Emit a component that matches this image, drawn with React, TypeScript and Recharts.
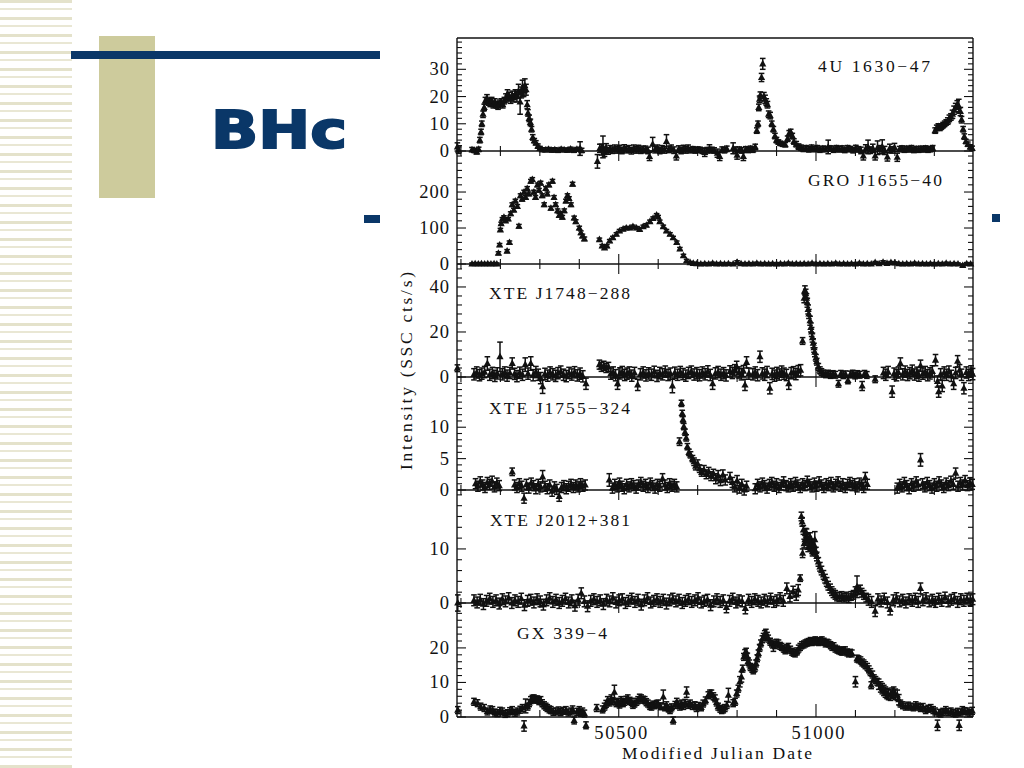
import { ScatterChart, Scatter, XAxis, YAxis, ErrorBar } from "recharts";

// [MJD, rate (SSC cts/s), 1-sigma error]
type Pt = [number, number, number];

const MJD_RANGE: [number, number] = [50090, 51398];
const MJD_TICKS = [50100, 50200, 50300, 50400, 50500, 50600, 50700, 50800, 50900, 51000, 51100, 51200, 51300];
const MJD_LABELS = [50500, 51000];

const SRC_4U1630: Pt[] = [
  [50091, 1.5, 1.5], [50094, 0.3, 1.2],
  [50128, 0.5, 0.8], [50134, 0.2, 0.8], [50140, -0.3, 0.8], [50145, 0.6, 0.8],
  [50148, 4, 1], [50151, 7, 1], [50153, 10, 1], [50156, 13.5, 1.2], [50159, 16, 1.2], [50162, 18.5, 1.2],
  [50166, 19.5, 1.2], [50170, 18, 1.2], [50174, 17.5, 1.2], [50178, 18.5, 1.2], [50182, 17, 1.2], [50186, 18, 1.2],
  [50190, 17, 1.2], [50194, 16.5, 1.2], [50198, 17.5, 1.2], [50202, 18, 1.2], [50206, 17, 1.2], [50210, 18.5, 1.2],
  [50214, 19.5, 1.5], [50218, 21, 1.5], [50222, 20, 1.5], [50226, 19, 1.5], [50230, 20.5, 1.5], [50234, 19.5, 1.5],
  [50238, 21, 1.5], [50242, 20, 2], [50246, 22, 2.5], [50250, 18, 4.5], [50253, 21.5, 2], [50256, 23, 3],
  [50259, 22, 2], [50262, 24, 2.5], [50265, 22.5, 2], [50268, 17, 1.5], [50270, 14, 1.2], [50273, 12, 1.2],
  [50276, 10.5, 1.2], [50279, 8, 1], [50282, 5, 1], [50286, 3.8, 0.8], [50290, 3, 0.8], [50295, 1.8, 0.8],
  [50300, 1, 0.7], [50306, 0.5, 0.7], [50314, 0.4, 0.7], [50322, 0.6, 0.7], [50330, 0.3, 0.7], [50338, 0.5, 0.7],
  [50346, 0.2, 0.7], [50354, 0.6, 0.7], [50362, 0.4, 0.7], [50370, 0.3, 0.7], [50378, 0.7, 0.7], [50386, 0.2, 0.7],
  [50394, 0.6, 0.7], [50402, 0.9, 2.5], [50406, 0.2, 0.8],
  [50446, -3.8, 2.5], [50452, 1, 1.5], [50456, 0.5, 2], [50460, 1.5, 4], [50464, -0.5, 1.5], [50468, 1.2, 1.5],
  [50473, 0, 1.2], [50478, 0.8, 1.2], [50484, 0.3, 1.2], [50490, 1, 1.2], [50496, 0.4, 1.2], [50502, 0.9, 1.2],
  [50508, 0.2, 1.2], [50514, 1.1, 1.2], [50520, 0.5, 1.2], [50526, 0.8, 1.2], [50532, 0.1, 1.2], [50538, 1, 1.2],
  [50544, 0.4, 1.2], [50550, 0.9, 1.2], [50556, 0.3, 1.2], [50562, 0.6, 1.2], [50568, 0.6, 1.2], [50574, 0.2, 1.2],
  [50578, -2, 1.5], [50586, 2.5, 2.5], [50592, 0.5, 1.2], [50598, 1, 1.2], [50604, 0.2, 1.2], [50610, 0.8, 1.2],
  [50616, 0.4, 1.2], [50621, 3.5, 2.5], [50627, 0.6, 1.2], [50633, 1, 1.2], [50640, 0.3, 1.2], [50646, -1.8, 1.5],
  [50652, 0.7, 1.2], [50658, 0.2, 1.2], [50664, 0.9, 1.2], [50670, 0.4, 1.2], [50676, 1, 1.2], [50682, 0.3, 1],
  [50688, 0.6, 1], [50694, 0.2, 1], [50700, 0.5, 1], [50706, 0.4, 1], [50712, 0.1, 1], [50718, -0.5, 1.5],
  [50724, 0.3, 1], [50730, 0.8, 1.5], [50736, 0.4, 1], [50742, 0.2, 1], [50750, -0.8, 1.5], [50756, -2, 1.5],
  [50762, 0.5, 1], [50768, 0.3, 1], [50774, 0.8, 1],
  [50790, 1, 2], [50796, 0.3, 1.2], [50800, -1.5, 1.5], [50806, 0.5, 1], [50812, 0.2, 1], [50816, -2, 1.5],
  [50822, 0.6, 1], [50828, 0.4, 1], [50834, 0.8, 1], [50840, 0.5, 1], [50846, 1.5, 1],
  [50850, 7.5, 1], [50853, 10, 1], [50855, 16, 1.2], [50857, 19, 1.2], [50859, 20.5, 1.2], [50862, 27, 1.5],
  [50865, 32, 2], [50868, 20, 1.5], [50871, 19, 1.5], [50874, 18, 1.2], [50877, 17, 1.2], [50880, 13.5, 1.2],
  [50884, 13, 1.2], [50888, 10, 1], [50892, 8, 1], [50896, 5.5, 1], [50900, 4, 1], [50905, 3.3, 0.8],
  [50910, 2.8, 0.8], [50916, 2.5, 0.8], [50922, 2.3, 0.8], [50928, 4.5, 1], [50932, 6.5, 1], [50936, 7, 1],
  [50940, 5.5, 1], [50944, 3.5, 1], [50950, 2.5, 1], [50956, 1.6, 1], [50962, 1.2, 1],
  [50968, 0.8, 1], [50975, 1, 1], [50982, 0.6, 1], [50989, 1.2, 1], [50996, 0.7, 1], [51003, 1, 1],
  [51010, 0.5, 1], [51017, 0.8, 1], [51024, 0.7, 1], [51031, 1.5, 2.5], [51038, 0.9, 1], [51045, 0.5, 1],
  [51052, 1, 1], [51059, 0.6, 1], [51066, 0.9, 1], [51073, 0.4, 1], [51080, 1, 1], [51087, 0.7, 1],
  [51094, 0.3, 1], [51101, 1.1, 1], [51108, 0.6, 1], [51114, 0.2, 1.2], [51120, -1.8, 1.5], [51126, 0.8, 1.5],
  [51132, 1.5, 2.5], [51138, 0.3, 1.2], [51144, 1, 1.5], [51150, -1.8, 1.5], [51156, 1.2, 2.5], [51162, 0.5, 1.5],
  [51168, 1.6, 2.5], [51174, 0.2, 1.5], [51181, -2.2, 1.5], [51187, 1, 1.5], [51193, 0.4, 1.2], [51199, 1.3, 1.5],
  [51206, -2.3, 1.5], [51212, 0.7, 1], [51218, 0.9, 1], [51224, 0.5, 1], [51230, 0.8, 1], [51236, 0.6, 1],
  [51242, 1, 1], [51248, 0.4, 1], [51254, 0.7, 1], [51260, 0.5, 1], [51266, 0.8, 1], [51272, 0.6, 1],
  [51278, 0.9, 1], [51284, 0.5, 1], [51290, 0.7, 1], [51296, 1, 1],
  [51302, 7.5, 1], [51306, 8.5, 1], [51310, 9, 1], [51314, 8.5, 1], [51318, 9, 1], [51322, 9.5, 1],
  [51326, 10, 1], [51330, 10.5, 1], [51334, 11, 1.2], [51338, 12, 1.2], [51342, 12.5, 1.2], [51346, 13.5, 1.5],
  [51350, 15, 1.5], [51354, 16, 1.5], [51358, 17, 1.5], [51362, 16.5, 2.5], [51366, 14.5, 1.5], [51369, 11.5, 1.2],
  [51373, 8, 1], [51376, 5.3, 1], [51380, 3.5, 0.8], [51385, 2.5, 0.8], [51391, 1.5, 0.8], [51396, 1, 0.8],
];

const SRC_GRO1655: Pt[] = [
  [50128, 0, 3], [50136, 1, 3], [50144, 0, 3], [50152, 1, 3], [50160, 0, 3], [50168, 1, 3], [50176, 0, 3],
  [50184, 1, 3], [50191, 0, 3],
  [50195, 30, 4], [50198, 53, 4], [50200, 95, 4], [50202, 112, 4], [50205, 125, 4], [50209, 130, 4],
  [50213, 120, 4], [50217, 36, 4], [50220, 125, 4], [50223, 60, 4], [50226, 140, 5], [50230, 165, 5],
  [50234, 150, 5], [50238, 175, 5], [50243, 160, 5], [50247, 105, 5], [50251, 190, 5], [50255, 180, 5],
  [50260, 200, 5], [50264, 185, 5], [50268, 210, 5], [50272, 195, 5], [50277, 230, 5], [50281, 235, 5],
  [50285, 200, 5], [50289, 185, 5], [50294, 220, 5], [50298, 205, 5], [50302, 225, 5], [50306, 190, 5],
  [50311, 165, 5], [50315, 210, 5], [50319, 195, 5], [50323, 220, 5], [50328, 155, 5], [50332, 230, 5],
  [50336, 185, 5], [50340, 165, 5], [50345, 148, 5], [50349, 135, 5], [50353, 140, 5], [50357, 130, 5],
  [50362, 148, 5], [50366, 175, 5], [50370, 190, 5], [50374, 182, 5], [50379, 165, 5], [50383, 222, 5],
  [50387, 128, 5], [50391, 118, 5], [50400, 100, 5], [50404, 87, 5], [50408, 78, 5], [50413, 70, 5],
  [50451, 68, 4], [50458, 50, 4], [50464, 45, 4], [50470, 50, 4], [50477, 64, 4], [50485, 73, 4],
  [50494, 83, 4], [50502, 92, 4], [50511, 97, 4], [50519, 100, 4], [50528, 100, 4], [50536, 104, 4],
  [50545, 100, 4], [50553, 96, 4], [50562, 104, 4], [50570, 108, 4], [50579, 118, 4], [50587, 127, 4],
  [50596, 136, 4], [50600, 131, 4], [50604, 118, 4], [50613, 104, 4], [50621, 92, 4], [50630, 83, 4],
  [50638, 73, 4], [50647, 60, 4], [50655, 42, 4], [50664, 23, 4], [50672, 9, 4], [50681, 4, 3],
  [50689, 2, 3], [50698, 1, 3],
  [50708, 0, 3], [50718, 1, 3], [50728, 0, 3], [50738, 2, 3], [50748, 0, 3], [50758, 1, 3], [50768, 0, 3],
  [50778, 1, 3], [50790, 0, 3], [50800, 5, 4], [50810, 1, 3], [50820, 0, 3], [50830, 1, 3], [50840, 0, 3],
  [50850, 2, 3], [50860, 0, 3], [50870, 1, 3], [50880, 0, 3], [50890, 1, 3], [50900, 0, 3], [50910, 1, 3],
  [50920, 0, 3], [50930, 2, 3], [50940, 0, 3], [50950, 1, 3], [50960, 0, 3], [50970, 1, 3], [50980, 0, 3],
  [50990, 2, 3], [51000, 0, 3], [51010, 1, 3], [51020, 0, 3], [51030, 1, 3], [51040, 0, 3], [51050, 2, 3],
  [51060, 0, 3], [51070, 1, 3], [51080, 0, 3], [51090, 1, 3], [51100, 0, 3], [51110, 2, 3], [51120, 0, 3],
  [51130, 1, 3], [51140, 0, 3], [51150, 4, 3], [51160, 1, 3], [51170, 5, 4], [51180, 2, 3], [51190, 4, 3],
  [51200, 3, 3], [51210, 1, 3], [51220, 0, 3], [51230, 1, 3], [51240, 0, 3], [51250, 2, 3], [51260, 0, 3],
  [51270, 1, 3], [51280, 0, 3], [51290, 1, 3], [51300, 0, 3], [51310, 1, 3], [51320, 0, 3], [51330, 2, 3],
  [51340, 0, 3], [51350, 1, 3], [51360, 0, 3], [51372, -4, 3], [51382, 1, 3], [51392, 0, 3],
];

const SRC_J1748: Pt[] = [
  [50091, 3.9, 1.5],
  [50133, 1.2, 2.5], [50140, 2, 2.5], [50147, 0.8, 2.5], [50153, 1.5, 2.5], [50160, 2.2, 2.5], [50167, 6, 3],
  [50173, 1, 2.5], [50180, 1.8, 2.5], [50186, 0.5, 2.5], [50192, 1.6, 2.5], [50199, 9, 6.5], [50205, 1.2, 2.5],
  [50211, 2, 2.5], [50217, 0.6, 2.5], [50224, 1.8, 2.5], [50230, 6, 2.5], [50236, 1.4, 2.5], [50242, 0.4, 2.5],
  [50249, 1.9, 2.5], [50256, 1, 2.5], [50263, 5.5, 3], [50270, 1.5, 2.5], [50277, 6, 3], [50283, 0.8, 2.5],
  [50290, 2.2, 2.5], [50296, 1, 2.5], [50302, -0.5, 2.5], [50307, -4.3, 3], [50313, 1.4, 2.5], [50320, 0.6, 2.5],
  [50326, 2, 2.5], [50333, 1.2, 2.5], [50340, 0.5, 2.5], [50346, 1.7, 2.5], [50353, 2.4, 2.5], [50360, 1, 2.5],
  [50367, 0.4, 2.5], [50374, 1.8, 2.5], [50381, 1.1, 2.5], [50388, 2.1, 2.5], [50395, 0.7, 2.5], [50402, 1.5, 2.5],
  [50409, 0.3, 2.5], [50417, -3, 2.5],
  [50451, 5.5, 2], [50456, 4.5, 2], [50462, 5, 2], [50468, 4, 2], [50474, 4.5, 2], [50480, 1.5, 2.5],
  [50486, 2, 2.5], [50492, 0.8, 2.5], [50497, -3, 2.5], [50503, 1.6, 2.5], [50509, 2.2, 2.5], [50515, 0.9, 2.5],
  [50521, 1.5, 2.5], [50527, 2, 2.5], [50533, 0.6, 2.5], [50540, 1.8, 2.5], [50548, -3.5, 2.5], [50555, 1.2, 2.5],
  [50562, 2, 2.5], [50569, 0.7, 2.5], [50576, 1.6, 2.5], [50583, 1, 2.5], [50590, 2.3, 2.5], [50597, 0.5, 2.5],
  [50604, 1.8, 2.5], [50611, 1.2, 2.5], [50618, 2.4, 2.5], [50625, 0.9, 2.5], [50631, 1.5, 2.5], [50636, -4, 3],
  [50642, 1.9, 2.5], [50649, 1, 2.5], [50656, 2.2, 2.5], [50663, 1.3, 2.5], [50670, 0.6, 2.5], [50677, 1.8, 2.5],
  [50684, 2.4, 2.5], [50691, 1.1, 2.5], [50698, 1.7, 2.5], [50705, 0.8, 2.5], [50712, 2, 2.5], [50719, 1.2, 2.5],
  [50726, 2.5, 2.5], [50732, 0.9, 2.5], [50738, -3, 2.5], [50745, 1.6, 2.5], [50752, 2.2, 2.5], [50759, 1, 2.5],
  [50766, 1.7, 2.5], [50772, 0.7, 2.5],
  [50782, 2.5, 2.5], [50788, 1.8, 2.5], [50794, 3, 2.5], [50799, 4.5, 2.5], [50805, 2, 2.5], [50811, 1.2, 2.5],
  [50816, 2.6, 2.5], [50820, -3.5, 2.5], [50824, 6.5, 2.5], [50830, 1.5, 2.5],
  [50840, 1.2, 2.5], [50846, 2, 2.5], [50852, 0.8, 2.5], [50858, 9, 2.5], [50864, 1.6, 2.5], [50870, 1, 2.5],
  [50876, 2.2, 2.5], [50883, -5, 2.5], [50889, 1.4, 2.5], [50895, 0.6, 2.5], [50901, 1.8, 2.5], [50907, 1.1, 2.5],
  [50913, 2.4, 2.5], [50919, 1.5, 2.5], [50925, 0.9, 2.5], [50931, -3, 2.5], [50937, 1.7, 2.5], [50943, 2.1, 2.5],
  [50949, 1.3, 2.5], [50955, 2.6, 2.5], [50961, 3, 2.5],
  [50966, 16, 1.5], [50970, 35, 2], [50972, 38.5, 2], [50974, 37, 2], [50976, 35, 2], [50978, 33, 2],
  [50980, 30, 2], [50982, 28, 2], [50985, 25, 2], [50987, 22, 2], [50989, 20, 2], [50991, 17.5, 2],
  [50993, 15, 2], [50995, 13, 2], [50997, 11, 2], [51000, 8.5, 1.5], [51002, 6.8, 1.5], [51006, 4.5, 1.5],
  [51010, 3, 1.5], [51014, 2.2, 1.5], [51019, 1.6, 1.5],
  [51025, 1.2, 1.5], [51031, 1.5, 1.5], [51037, 0.9, 1.5], [51043, 1.3, 1.5], [51049, 1, 1.5], [51057, -3, 1.5],
  [51063, 1.4, 1.5], [51069, 0.8, 1.5], [51075, 1.2, 1.5], [51081, -1.5, 1.5], [51087, 1.1, 1.5], [51093, 1.5, 1.5],
  [51099, 0.7, 1.5], [51105, 1.3, 1.5], [51111, 1, 1.5], [51117, -4, 2], [51123, 1.4, 1.5], [51129, 0.9, 1.5],
  [51150, -1, 1.5],
  [51171, 1.8, 2.5], [51177, 1, 2.5], [51183, 2.2, 2.5], [51193, -6.5, 2.5], [51198, 1.5, 2.5], [51204, 0.8, 2.5],
  [51209, 2, 2.5], [51214, 6, 2.5], [51220, 1.2, 2.5], [51226, 2.4, 2.5], [51232, 0.9, 2.5], [51238, 1.7, 2.5],
  [51244, 2.8, 2.5], [51250, 1.1, 2.5], [51256, 1.9, 2.5], [51261, 0.6, 2.5], [51265, 5, 2.5], [51271, 1.5, 2.5],
  [51277, 2.2, 2.5], [51283, 0.8, 2.5], [51289, 1.6, 2.5], [51295, 2.5, 2.5], [51303, 7.5, 2.5], [51308, -2, 2.5],
  [51311, -6.5, 2.5], [51316, 1.2, 2.5], [51320, -4, 2.5], [51325, 2, 2.5], [51331, 1, 2.5], [51337, 2.4, 2.5],
  [51343, 0.5, 2.5], [51349, -3, 2.5], [51354, 1.8, 2.5], [51359, 7, 2.5], [51364, 3, 2.5], [51369, 1, 2.5],
  [51375, -5, 2.5], [51381, 2, 2.5], [51387, 0.9, 2.5], [51393, 2.5, 2.5], [51397, 1.3, 2.5],
];

const SRC_J1755: Pt[] = [
  [50137, 1, 0.8], [50143, 0.6, 0.8], [50149, 1.3, 0.8], [50155, 0.8, 0.8], [50161, 0.4, 0.8], [50167, 1.2, 0.8],
  [50173, 0.9, 0.8], [50179, 1.4, 0.8], [50185, 0.5, 0.8], [50191, 1.1, 0.8], [50197, 0.7, 0.8],
  [50230, 2.9, 0.6], [50236, 0.8, 0.8], [50242, 0.4, 0.8], [50248, 1, 0.8], [50254, 0.6, 0.8], [50260, -1.3, 0.8],
  [50266, 0.9, 0.8], [50272, 0.3, 0.8], [50278, 1.1, 0.8], [50284, 0.7, 0.8], [50290, 0.2, 0.8], [50296, 0.9, 0.8],
  [50302, 0.5, 0.8], [50307, 2.1, 1], [50313, 0.6, 0.8], [50319, 0.2, 0.8], [50325, 0.8, 0.8], [50331, -0.2, 0.8],
  [50337, 0.5, 0.8], [50343, 0.1, 0.8], [50349, -1, 0.8], [50355, 0.4, 0.8], [50361, 0.7, 0.8], [50367, 0.2, 0.8],
  [50373, 0.6, 0.8], [50379, 0.9, 0.8], [50385, 0.4, 0.8], [50391, 0.8, 0.8], [50397, 0.5, 0.8], [50403, 1, 0.8],
  [50409, 0.6, 0.8], [50415, 0.8, 0.8],
  [50476, 1.6, 1], [50484, 0.3, 0.8], [50490, 0.9, 0.8], [50496, 0.5, 0.8], [50502, 1.1, 0.8], [50508, 0.6, 0.8],
  [50514, 0.2, 0.8], [50520, 0.9, 0.8], [50526, 0.5, 0.8], [50532, 1, 0.8], [50538, 0.7, 0.8], [50544, 0.3, 0.8],
  [50550, 0.8, 0.8], [50556, 1.2, 0.8], [50562, 0.6, 0.8], [50568, 0.9, 0.8], [50574, 0.4, 0.8], [50580, 1.1, 0.8],
  [50586, 0.7, 0.8], [50592, 0.3, 0.8], [50598, 0.9, 0.8], [50604, 0.6, 0.8], [50611, 1.8, 0.8], [50617, 0.8, 0.8],
  [50623, 0.4, 0.8], [50629, 1, 0.8], [50635, 0.6, 0.8], [50641, 0.9, 0.8], [50647, 0.5, 0.8],
  [50654, 7.7, 0.6], [50659, 13.8, 0.5], [50661, 12.2, 0.5], [50663, 11.2, 0.5], [50665, 10.1, 0.5], [50668, 9.2, 0.5],
  [50671, 8.3, 0.5], [50674, 6.9, 0.5], [50678, 6, 0.5], [50682, 5.6, 0.5], [50687, 5, 0.5], [50691, 4.5, 0.6],
  [50695, 3.8, 0.6], [50700, 4.2, 0.6], [50705, 3.4, 0.6], [50710, 2.8, 0.6], [50716, 3.2, 0.7], [50722, 2.5, 0.7],
  [50728, 2.9, 0.7], [50734, 2.2, 0.7], [50740, 2.6, 0.7], [50746, 1.8, 0.8], [50752, 2.3, 0.8], [50758, 1.5, 0.8],
  [50764, 2.4, 0.8], [50770, 1.6, 0.8],
  [50782, 2, 0.8], [50788, 1.2, 0.8], [50794, 0.5, 0.8], [50800, 1.5, 0.8], [50806, 0.3, 0.8], [50812, 0.9, 0.8],
  [50818, 0, 0.8], [50824, 0.6, 0.8],
  [50846, 0.2, 0.8], [50852, 0.9, 0.8], [50858, 0.5, 0.8], [50864, 1.1, 0.8], [50870, 0.7, 0.8], [50876, 0.3, 0.8],
  [50882, 0.9, 0.8], [50888, 1.2, 0.8], [50894, 0.6, 0.8], [50900, 1, 0.8], [50906, 0.4, 0.8], [50912, 0.8, 0.8],
  [50918, 1.3, 0.8], [50924, 0.7, 0.8], [50930, 0.5, 0.8], [50936, 1, 0.8], [50942, 0.6, 0.8], [50948, 1.2, 0.8],
  [50954, 0.8, 0.8], [50960, 0.4, 0.8], [50966, 1, 0.8], [50972, 0.7, 0.8], [50978, 1.4, 0.8], [50984, 0.9, 0.8],
  [50990, 0.5, 0.8], [50996, 1.1, 0.8], [51002, 0.6, 0.8], [51008, 1.3, 0.8], [51014, 0.8, 0.8], [51020, 0.4, 0.8],
  [51026, 1, 0.8], [51032, 0.7, 0.8], [51038, 1.2, 0.8], [51044, 0.5, 0.8], [51050, 0.9, 0.8], [51056, 1.3, 0.8],
  [51062, 0.6, 0.8], [51068, 1, 0.8], [51074, 0.4, 0.8], [51080, 0.9, 0.8], [51086, 1.2, 0.8], [51092, 0.7, 0.8],
  [51098, 1, 0.8], [51104, 0.5, 0.8], [51110, 1.1, 0.8], [51116, 0.8, 0.8], [51121, 0.4, 0.8], [51125, 2, 0.8],
  [51130, 0.9, 0.8],
  [51206, 0.3, 0.8], [51212, 0.9, 0.8], [51218, 0.5, 0.8], [51224, 1.2, 0.8], [51230, 0.7, 0.8], [51236, 0.2, 0.8],
  [51242, 1, 0.8], [51248, 0.6, 0.8], [51254, 1.3, 0.8], [51259, 0.8, 0.8], [51265, 4.8, 1], [51270, 1, 0.8],
  [51276, 0.5, 0.8], [51282, 1.2, 0.8], [51288, 0.7, 0.8], [51294, 0.3, 0.8], [51300, 1, 0.8], [51306, 0.6, 0.8],
  [51312, 1.3, 0.8], [51318, 0.8, 0.8], [51324, 0.4, 0.8], [51330, 1.1, 0.8], [51336, 0.7, 0.8], [51342, 1.4, 0.8],
  [51348, 0.9, 0.8], [51354, 2.7, 0.8], [51360, 0.6, 0.8], [51366, 1.2, 0.8], [51372, 0.8, 0.8], [51378, 1.5, 0.8],
  [51384, 0.7, 0.8], [51390, 1.1, 0.8], [51396, 0.9, 0.8],
];

const SRC_J2012: Pt[] = [
  [50092, 0, 1.5],
  [50133, 0.5, 1], [50141, 0.1, 1], [50149, 0.6, 1], [50157, -0.2, 1], [50165, 0.4, 1], [50173, 0.8, 1],
  [50181, 0.2, 1], [50189, 0.5, 1], [50197, -0.1, 1], [50205, 0.7, 1], [50213, 0.3, 1], [50221, 0.9, 1],
  [50229, 0, 1], [50237, 0.5, 1], [50245, 0.2, 1], [50253, 0.8, 1], [50261, -0.4, 1], [50269, 0.4, 1],
  [50277, 0.6, 1], [50285, 0.1, 1], [50293, 0.7, 1], [50301, 0.3, 1], [50309, -0.3, 1], [50317, 0.5, 1],
  [50325, 0.9, 1], [50333, 0.2, 1], [50341, 0.6, 1], [50349, 0, 1], [50357, 0.4, 1], [50365, 0.8, 1],
  [50373, 0.1, 1], [50381, 0.5, 1], [50389, -0.5, 1], [50397, 0.6, 1], [50405, 1.8, 1], [50413, 0.3, 1],
  [50421, -0.6, 1], [50429, 0.4, 1], [50437, 0.7, 1], [50445, 0.2, 1], [50453, 0.5, 1], [50461, -0.2, 1],
  [50469, 0.6, 1], [50477, 0.3, 1], [50485, 0.9, 1], [50493, 0.1, 1], [50501, 0.5, 1], [50509, 0.7, 1],
  [50517, 0, 1], [50525, 0.4, 1], [50533, 0.8, 1], [50541, 0.2, 1], [50549, 0.6, 1], [50557, -0.3, 1],
  [50565, 0.5, 1], [50573, 0.9, 1], [50581, 0.1, 1], [50589, 0.4, 1], [50597, 0.7, 1], [50605, 0.2, 1],
  [50613, 0.6, 1], [50621, -0.1, 1], [50629, 0.5, 1], [50637, 0.8, 1], [50645, 0.3, 1], [50653, 0.6, 1],
  [50661, 0, 1], [50669, 0.4, 1], [50677, 0.7, 1], [50685, 0.2, 1], [50693, 0.5, 1], [50701, 0.9, 1],
  [50709, 0.1, 1], [50717, 0.4, 1], [50725, 0.6, 1], [50733, -0.4, 1], [50741, 0.3, 1], [50749, 0.7, 1],
  [50757, 0.2, 1], [50765, 0.5, 1], [50773, -0.8, 1], [50781, 0.4, 1], [50789, 0.8, 1], [50797, 0.1, 1],
  [50805, 0.5, 1], [50813, 0.3, 1], [50821, -1, 1], [50829, 0.6, 1], [50837, 0.2, 1], [50845, 0.7, 1],
  [50853, 0.4, 1], [50861, 0.1, 1], [50869, 0.6, 1], [50877, 0.3, 1], [50885, 0.8, 1], [50893, 0.2, 1],
  [50901, 0.5, 1], [50909, 0.9, 1], [50917, 0.4, 1], [50926, 2.7, 1], [50934, 1.2, 1], [50942, 2.1, 1],
  [50950, 1.5, 1], [50955, 2.4, 1],
  [50960, 4.6, 0.6], [50963, 16, 0.8], [50965, 15, 0.8], [50966, 9.2, 0.8], [50968, 13.5, 0.8], [50970, 11, 0.8],
  [50972, 11.7, 0.8], [50974, 13, 0.8], [50976, 12.9, 0.8], [50978, 12, 0.8], [50980, 10.3, 0.8], [50983, 11.5, 0.8],
  [50985, 12.2, 0.8], [50987, 10.5, 0.8], [50989, 11, 0.8], [50991, 9.5, 0.8], [50993, 9.8, 0.8], [50995, 10.8, 0.8],
  [50997, 11.7, 1.5], [51000, 9.5, 0.8], [51002, 8.6, 0.8], [51006, 7.6, 0.8], [51010, 6.7, 0.8], [51014, 6, 0.8],
  [51019, 5.2, 0.8], [51023, 4.5, 0.8], [51027, 3.9, 0.8], [51031, 3.2, 0.8], [51036, 2.7, 0.8], [51040, 2.2, 0.8],
  [51044, 1.8, 0.8], [51049, 1.5, 0.8], [51053, 1.2, 0.8], [51059, 1.1, 0.8], [51065, 1.3, 0.8], [51071, 1, 0.8],
  [51077, 1.2, 0.8], [51083, 0.9, 0.8], [51089, 1.3, 0.8], [51095, 1.5, 0.8], [51100, 2.2, 0.8], [51104, 3, 2],
  [51108, 2.4, 0.8], [51112, 2.5, 0.8], [51116, 1.9, 0.8], [51121, 1.5, 0.8], [51127, 1, 0.8],
  [51133, 0.6, 1], [51141, 0.2, 1], [51150, -1.5, 1], [51157, 0.7, 1], [51165, 0.3, 1], [51173, 0.8, 1],
  [51181, 0.1, 1], [51188, -1.2, 1], [51196, 0.5, 1], [51204, 0.9, 1], [51212, 0.3, 1], [51220, 0.6, 1],
  [51228, 0.1, 1], [51236, 0.7, 1], [51244, 0.4, 1], [51252, 0.8, 1], [51259, 0.2, 1], [51265, 2.7, 1],
  [51271, 0.5, 1], [51279, 0.9, 1], [51287, 0.3, 1], [51295, 0.6, 1], [51303, 0.2, 1], [51311, 0.8, 1],
  [51319, 0.4, 1], [51327, 1, 1], [51335, 0.3, 1], [51343, 0.6, 1], [51351, 0.9, 1], [51359, 0.2, 1],
  [51367, 0.7, 1], [51375, 0.4, 1], [51383, 0.8, 1], [51391, 0.5, 1], [51397, 0.7, 1],
];

const SRC_GX339: Pt[] = [
  [50092, 2, 1],
  [50133, 4.4, 1], [50142, 4, 1], [50150, 3, 1], [50159, 2.6, 1], [50167, 1.6, 1], [50174, 2.2, 1],
  [50180, 2, 1], [50186, 1.3, 1], [50192, 1.1, 1], [50199, 1.8, 1], [50205, 1.6, 1], [50212, 0.9, 1],
  [50218, 1.1, 1], [50224, 1.7, 1], [50230, 2, 1], [50237, 1.2, 1], [50243, 1.6, 1], [50250, 2.1, 1],
  [50256, 2.6, 1], [50260, -2.6, 1.5], [50264, 3.2, 2], [50269, 3, 1], [50273, 4, 1], [50277, 4.9, 1],
  [50281, 5.3, 1], [50285, 5.4, 1], [50290, 5, 1], [50294, 5.1, 1], [50298, 4.6, 1], [50302, 4.9, 1],
  [50306, 4, 1], [50311, 3.4, 1], [50315, 3, 1], [50319, 2.6, 1], [50324, 2.2, 1], [50328, 2, 1],
  [50334, 1.5, 1], [50340, 1.6, 1], [50347, 1.9, 1], [50353, 1.4, 1], [50359, 1.8, 1], [50366, 2, 1],
  [50372, 1.3, 1], [50379, 1.6, 1], [50383, 2.2, 1], [50387, -1, 1], [50394, 1.5, 1], [50400, 2, 1],
  [50404, 1.2, 1], [50408, 1.6, 1], [50413, 1, 1], [50417, -2.4, 1],
  [50444, 2.6, 1], [50459, 2.2, 1], [50464, 3, 1], [50468, 3.8, 1], [50472, 4.9, 1], [50477, 4.2, 1],
  [50481, 5.4, 1], [50485, 4.6, 1], [50489, 7.2, 2], [50494, 4, 1], [50498, 4.4, 1], [50502, 3.6, 1],
  [50506, 4.9, 1], [50511, 4, 1], [50515, 4.4, 1], [50519, 5, 1], [50523, 5.4, 1], [50528, 4.7, 1],
  [50532, 4.4, 1], [50536, 3.5, 1], [50540, 3.9, 1], [50545, 4.4, 1], [50549, 4.9, 1], [50553, 5.6, 1],
  [50557, 5.4, 1], [50562, 5, 1], [50566, 4.9, 1], [50570, 4.3, 1], [50574, 3.9, 1], [50579, 3.2, 1],
  [50583, 3, 1], [50587, 3.6, 1], [50591, 3.4, 1], [50596, 3.8, 1], [50600, 3.9, 1], [50606, 3.1, 1],
  [50613, 5.8, 2], [50617, 2.8, 1], [50621, 3.4, 1], [50626, 2.5, 1], [50630, 2, 1], [50634, 2.8, 1],
  [50638, -1, 1], [50643, 3.5, 1], [50647, 4.4, 1], [50651, 3.6, 1], [50655, 3, 1], [50659, 3.9, 1],
  [50664, 3.2, 1], [50668, 4.1, 1], [50672, 7.2, 1.5], [50676, 3.5, 1], [50681, 3.9, 1], [50687, 3.2, 1],
  [50693, 3.4, 1], [50697, 2.6, 1], [50703, 3.2, 1], [50709, 2.8, 1], [50714, 3.9, 1], [50720, 4.8, 1],
  [50727, 6.3, 1], [50731, 6.8, 1], [50735, 6.8, 1], [50740, 6, 1], [50744, 5.4, 1], [50748, 4.2, 1],
  [50752, 3, 1], [50757, 2.4, 1], [50761, 2, 1], [50765, 2.2, 1], [50769, 2.6, 1], [50774, 3.5, 1],
  [50778, 6.3, 2], [50790, 4, 1], [50795, 4.4, 1], [50799, 6.8, 1], [50803, 8.2, 1], [50807, 10.2, 1.5],
  [50811, 11.6, 1.5], [50814, 14, 1], [50817, 17.4, 1], [50820, 18.5, 1], [50823, 18.9, 1], [50826, 17.5, 1],
  [50828, 16.1, 1], [50831, 15.5, 1], [50834, 14.5, 1], [50838, 14, 1], [50841, 13.5, 1], [50845, 14.2, 1],
  [50848, 15.5, 1], [50851, 17, 1], [50854, 18.4, 1], [50857, 20, 1], [50860, 21.3, 1], [50864, 22.5, 1],
  [50867, 23.2, 1], [50870, 24, 1], [50873, 24.4, 1], [50876, 23.5, 1], [50879, 22.7, 1], [50884, 21.8, 1],
  [50888, 21.3, 1], [50892, 20.5, 1.5], [50896, 20.8, 1], [50900, 21.5, 1], [50905, 21.3, 1], [50909, 20.6, 1],
  [50913, 20.3, 1], [50918, 19.8, 1], [50922, 19.3, 1], [50926, 19.9, 1], [50930, 20.3, 1], [50935, 19.5, 1],
  [50939, 18.9, 1], [50943, 18.6, 1], [50947, 18.4, 1], [50952, 19, 1], [50956, 19.8, 1], [50960, 20.3, 1],
  [50964, 20.8, 1], [50969, 21, 1], [50973, 21.3, 1], [50977, 21.5, 1], [50981, 21.7, 1], [50986, 22, 1],
  [50990, 21.7, 1], [50994, 21.9, 1], [50998, 22.2, 1], [51003, 21.9, 1], [51007, 21.7, 1], [51011, 22, 1],
  [51015, 22.2, 1], [51020, 21.8, 1], [51024, 21.3, 1], [51028, 21.5, 1], [51032, 21.3, 1], [51037, 20.8, 1],
  [51041, 20.3, 1], [51045, 20.5, 1], [51049, 19.8, 1], [51054, 19.5, 1], [51058, 19.3, 1], [51062, 19.1, 1],
  [51066, 18.9, 1], [51070, 19.3, 1], [51074, 19.3, 1], [51079, 18.7, 1], [51083, 18.4, 1], [51087, 18.6, 1],
  [51091, 18.4, 1], [51100, 10.2, 1.5], [51104, 16.9, 1], [51108, 16.7, 1], [51113, 16.4, 1], [51117, 15.8, 1],
  [51121, 15.5, 1], [51125, 15, 1], [51130, 14.5, 1], [51134, 13.8, 1], [51138, 13, 1], [51140, 9.2, 1],
  [51143, 12.3, 1], [51147, 11.2, 1], [51151, 10.7, 1], [51155, 10.2, 1], [51159, 9.5, 1.5], [51164, 8.7, 1.5],
  [51168, 8.2, 1.5], [51172, 7.7, 1.5], [51176, 7.2, 1.5], [51180, 6.8, 1.5], [51184, 6.5, 1.5], [51189, 6.3, 1.5],
  [51193, 6.9, 1.5], [51197, 7.2, 1.5], [51201, 6.6, 1.5], [51206, 6.3, 1.5], [51210, 5, 1.5], [51214, 3.9, 1],
  [51220, 3.4, 1], [51227, 3, 1], [51234, 3.3, 1], [51240, 3, 1], [51247, 2.8, 1], [51253, 3.4, 1],
  [51259, 3, 1], [51265, 2.6, 1], [51271, 2.9, 1], [51278, 2, 1], [51284, 2.4, 1], [51291, 2.6, 1],
  [51297, 2, 1], [51302, 1.6, 1], [51308, -2.4, 1.5], [51312, 1.2, 1], [51316, 1, 1], [51322, 1.5, 1],
  [51329, 2, 1], [51335, 1.4, 1], [51342, 1.6, 1], [51348, 1.2, 1], [51354, 1, 1], [51359, 1.5, 1],
  [51363, -2.4, 1.5], [51367, 1.3, 1], [51371, 2, 1], [51377, 1.7, 1], [51384, 1.6, 1], [51390, 1.2, 1],
  [51396, 1.8, 1],
];

const SERIES = [SRC_4U1630, SRC_GRO1655, SRC_J1748, SRC_J1755, SRC_J2012, SRC_GX339];
const NAMES = ["4U 1630−47", "GRO J1655−40", "XTE J1748−288", "XTE J1755−324", "XTE J2012+381", "GX 339−4"];
const Y_MAX = [41.5, 314, 50.2, 18, 20.9, 33];
const Y_MAJOR = [[0, 10, 20, 30], [0, 100, 200], [0, 20, 40], [0, 5, 10], [0, 10], [0, 10, 20]];
const Y_MINOR_STEP = [2, 20, 4, 1, 2, 2];

// layout (px)
const PLOT_LEFT = 457;
const PLOT_W = 516;
const AXIS_W = 60;
const PANEL_EDGES = [38, 151, 264, 377, 490, 603, 717];
const NAME_POS = [
  { x: 818, y: 72, w: 112 },
  { x: 808, y: 185.5, w: 134 },
  { x: 489, y: 298.5, w: 141 },
  { x: 489, y: 413.5, w: 141 },
  { x: 490, y: 526, w: 140 },
  { x: 517, y: 638.5, w: 90 },
];

const INK = "#111";
const SERIF = '"Liberation Serif", "DejaVu Serif", serif';
const AXIS_LINE = { stroke: INK, strokeWidth: 1.4 };
const NAVY = "#0a3768";

function stepTicks(max: number, step: number) {
  const out: number[] = [];
  for (let v = 0; v <= max + 1e-6; v += step) out.push(Math.round(v * 1000) / 1000);
  return out;
}

const leftTick = (major: number[]) => (props: any) => {
  const { x, y, payload } = props;
  const big = major.includes(payload.value);
  return (
    <g>
      <line x1={x} x2={x + (big ? 9 : 5)} y1={y} y2={y} stroke={INK} strokeWidth={1.1} />
      {big && (
        <text x={x - 7} y={y + 6} textAnchor="end" fontSize={18.5} fontFamily={SERIF} fill={INK} letterSpacing={1}>
          {payload.value}
        </text>
      )}
    </g>
  );
};

const rightTick = (major: number[]) => (props: any) => {
  const { x, y, payload } = props;
  const big = major.includes(payload.value);
  return <line x1={x} x2={x - (big ? 9 : 5)} y1={y} y2={y} stroke={INK} strokeWidth={1.1} />;
};

const xTick = (kind: "top" | "mid" | "bottom") => (props: any) => {
  const { x, y, payload } = props;
  const big = MJD_LABELS.includes(payload.value);
  let y1 = y;
  let y2 = y;
  if (kind === "top") y2 = y + (big ? 10 : 7);
  if (kind === "mid") {
    y1 = y - (big ? 10 : 5);
    y2 = y + (big ? 10 : 5);
  }
  if (kind === "bottom") y1 = y - (big ? 13 : 7);
  return (
    <g>
      <line x1={x} x2={x} y1={y1} y2={y2} stroke={INK} strokeWidth={1.1} />
      {kind === "bottom" && big && (
        <text x={x + 2} y={y + 22} textAnchor="middle" fontSize={18.5} fontFamily={SERIF} fill={INK}
          textLength={53} lengthAdjust="spacing">
          {payload.value}
        </text>
      )}
    </g>
  );
};

const triangle = (p: any) => {
  const { cx, cy } = p;
  if (cx == null || cy == null) return <g />;
  return <polygon points={`${cx},${cy - 4} ${cx - 3.6},${cy + 2.6} ${cx + 3.6},${cy + 2.6}`} fill={INK} />;
};

function Panel({ i }: { i: number }) {
  const top = PANEL_EDGES[i];
  const h = PANEL_EDGES[i + 1] - top;
  const data = SERIES[i].map(([x, y, e]) => ({ x, y, e }));
  const yTicks = stepTicks(Y_MAX[i], Y_MINOR_STEP[i]);
  const first = i === 0;
  const last = i === SERIES.length - 1;
  // axes need at least 1px of room to be drawn
  const extraTop = first ? 1 : 0;
  return (
    <div style={{ position: "absolute", left: PLOT_LEFT - AXIS_W, top: top - extraTop }}>
      <ScatterChart width={AXIS_W + PLOT_W + 1} height={h + 1 + extraTop} margin={{ top: 0, right: 0, bottom: 0, left: 0 }}>
        <XAxis dataKey="x" type="number" domain={MJD_RANGE} allowDataOverflow ticks={MJD_TICKS} interval={0}
          height={1} tickSize={0} tickMargin={0} tickLine={false} axisLine={AXIS_LINE}
          tick={xTick(last ? "bottom" : "mid")} />
        {first && (
          <XAxis xAxisId="t" orientation="top" type="number" domain={MJD_RANGE} allowDataOverflow ticks={MJD_TICKS}
            interval={0} height={1} tickSize={0} tickMargin={0} tickLine={false} axisLine={AXIS_LINE}
            tick={xTick("top")} />
        )}
        <YAxis dataKey="y" type="number" domain={[0, Y_MAX[i]]} allowDataOverflow ticks={yTicks} interval={0}
          width={AXIS_W} tickSize={0} tickMargin={0} tickLine={false} axisLine={AXIS_LINE}
          tick={leftTick(Y_MAJOR[i])} />
        <YAxis yAxisId="r" orientation="right" type="number" domain={[0, Y_MAX[i]]} allowDataOverflow ticks={yTicks}
          interval={0} width={1} tickSize={0} tickMargin={0} tickLine={false} axisLine={AXIS_LINE}
          tick={rightTick(Y_MAJOR[i])} />
        <Scatter data={data} fill={INK} shape={triangle} isAnimationActive={false}>
          <ErrorBar dataKey="e" direction="y" width={2.8} stroke={INK} strokeWidth={1.5} />
        </Scatter>
      </ScatterChart>
    </div>
  );
}

const css = `
.lc svg.recharts-surface { overflow: visible; }
.lc g[clip-path] { clip-path: none !important; }
`;

export default function App() {
  return (
    <div className="lc" style={{ position: "absolute", left: 0, top: 0, width: 1024, height: 768, background: "#fff", overflow: "hidden" }}>
      <style>{css}</style>

      {/* slide decoration */}
      <div style={{
        position: "absolute", left: 0, top: 0, width: 72, height: 768,
        background: "repeating-linear-gradient(to bottom, #e4e2cb 0px, #e4e2cb 3px, #fff 3px, #fff 8px, #e9e7d4 8px, #e9e7d4 10px, #fff 10px, #fff 17px)",
      }} />
      <div style={{ position: "absolute", left: 99, top: 36, width: 56, height: 162, background: "#cdcb9c" }} />
      <div style={{ position: "absolute", left: 71, top: 51, width: 309, height: 8, background: NAVY }} />
      <div style={{ position: "absolute", left: 364, top: 215, width: 16, height: 8, background: NAVY }} />
      <div style={{ position: "absolute", left: 992, top: 214, width: 8, height: 8, background: NAVY }} />
      <svg width={1024} height={768} style={{ position: "absolute", left: 0, top: 0 }}>
        <text x={211} y={148} fontFamily='"DejaVu Sans", Arial, sans-serif' fontWeight={700} fontSize={52}
          fill={NAVY} stroke={NAVY} strokeWidth={2} textLength={136} lengthAdjust="spacingAndGlyphs">
          BHc
        </text>
      </svg>

      {SERIES.map((_, i) => (
        <Panel key={i} i={i} />
      ))}

      {/* figure annotations */}
      <svg width={1024} height={768} style={{ position: "absolute", left: 0, top: 0, pointerEvents: "none" }}>
        {NAMES.map((n, i) => (
          <text key={n} x={NAME_POS[i].x} y={NAME_POS[i].y} fontFamily={SERIF} fontSize={17.5} fill={INK}
            textLength={NAME_POS[i].w} lengthAdjust="spacing">
            {n}
          </text>
        ))}
        <text x={622} y={759} fontFamily={SERIF} fontSize={17.5} fill={INK} textLength={190} lengthAdjust="spacing">
          Modified Julian Date
        </text>
        <text transform="translate(412, 470) rotate(-90)" fontFamily={SERIF} fontSize={17.5} fill={INK}
          textLength={198} lengthAdjust="spacing">
          Intensity (SSC cts/s)
        </text>
      </svg>
    </div>
  );
}
